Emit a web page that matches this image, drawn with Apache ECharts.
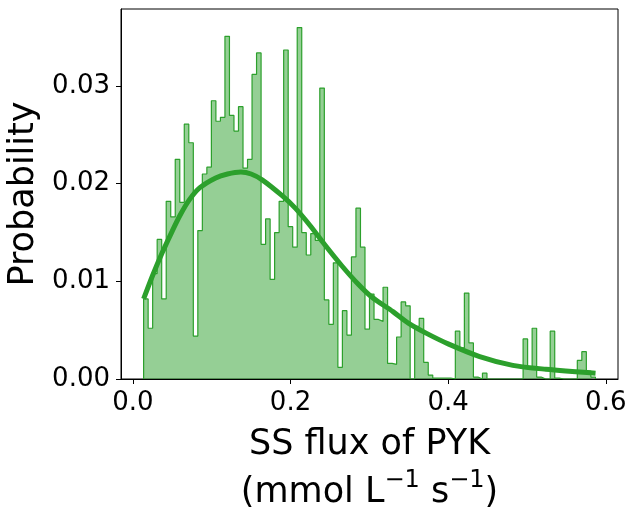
<!DOCTYPE html>
<html>
<head>
<meta charset="utf-8">
<script src="https://cdn.jsdelivr.net/npm/echarts@6/dist/echarts.min.js"></script>
<style>
html, body { margin: 0; padding: 0; background: #fff; }
#chart { width: 638px; height: 514px; }
</style>
</head>
<body>
<div id="chart"></div>
<script>
// histogram: 100 equal bins from binLo to binHi
const binLo = 0.0136;
const binHi = 0.5868;
const probs = [
  0.0082, 0.0052, 0.0108, 0.0143, 0.0082, 0.0182, 0.0166, 0.0225, 0.0181, 0.0261,
  0.0242, 0.0044, 0.0152, 0.0210, 0.0217, 0.0285, 0.0264, 0.0268, 0.0351, 0.0270,
  0.0254, 0.0279, 0.0216, 0.0225, 0.0312, 0.0334, 0.0138, 0.0164, 0.0102, 0.0150,
  0.0182, 0.0337, 0.0156, 0.0135, 0.0360, 0.0150, 0.0127, 0.0149, 0.0142, 0.0298,
  0.0081, 0.0056, 0.0119, 0.0012, 0.0070, 0.0045, 0.0125, 0.0175, 0.0135, 0.0051,
  0.0087, 0.0061, 0.0059, 0.0094, 0.0016, 0.0015, 0.0043, 0.0079, 0.0075, 0.0000,
  0.0054, 0.0062, 0.0017, 0.0004, 0.0001, 0.0001, 0.0001, 0.0001, 0.0000, 0.0049,
  0.0032, 0.0088, 0.0037, 0.0002, 0.0000, 0.0006, 0.0000, 0.0000, 0.0000, 0.0000,
  0.0000, 0.0000, 0.0000, 0.0000, 0.0041, 0.0012, 0.0052, 0.0002, 0.0000, 0.0000,
  0.0049, 0.0001, 0.0000, 0.0000, 0.0000, 0.0000, 0.0019, 0.0028, 0.0008, 0.0002
];
// fitted density curve
const fitX = [0.0136, 0.025, 0.037, 0.049, 0.060, 0.072, 0.085, 0.105, 0.120, 0.137,
  0.150, 0.164, 0.189, 0.206, 0.225, 0.243, 0.265, 0.286, 0.303, 0.330,
  0.350, 0.372, 0.400, 0.440, 0.482, 0.524, 0.587];
const fitY = [0.0082, 0.0106, 0.0129, 0.0150, 0.0168, 0.0184, 0.0196, 0.0206, 0.0210, 0.0212,
  0.0210, 0.0204, 0.0188, 0.0175, 0.0157, 0.0138, 0.0116, 0.0097, 0.0084, 0.0069,
  0.0057, 0.0047, 0.0036, 0.0023, 0.0014, 0.0010, 0.0006];
const xTicks = [0, 0.2, 0.4, 0.6];
const yTicks = [0, 0.01, 0.02, 0.03];

const green = '#2ca02c';
const font = 'DejaVu Sans';

// step outline of the histogram
const w = (binHi - binLo) / probs.length;
const stepPts = [[binLo, 0]];
probs.forEach(function (p, i) {
  stepPts.push([binLo + i * w, p]);
  stepPts.push([binLo + (i + 1) * w, p]);
});
stepPts.push([binHi, 0]);

const fitPts = fitX.map(function (x, i) { return [x, fitY[i]]; });

let myChart = echarts.init(document.getElementById('chart'));
let option = {
  animation: false,
  grid: {
    left: 121, right: 20, top: 9, bottom: 135,
    outerBoundsMode: 'none',
    containLabel: false,
    show: true, borderColor: '#000', borderWidth: 1
  },
  xAxis: {
    type: 'value',
    min: -0.0151,
    max: 0.6155,
    name: 'SS flux of PYK\n{a|(mmol L}{s|\u22121}{a| s}{s|\u22121}{a|)}',
    nameLocation: 'middle',
    nameGap: 29,
    nameTextStyle: {
      fontFamily: font, fontSize: 35, color: '#000', lineHeight: 48,
      rich: {
        a: { fontFamily: font, fontSize: 35, color: '#000', lineHeight: 48 },
        s: { fontFamily: font, fontSize: 24, color: '#000', lineHeight: 30, verticalAlign: 'top' }
      }
    },
    axisLine: { show: true, onZero: false, lineStyle: { color: '#000', width: 1 } },
    axisTick: { show: true, length: 5, customValues: xTicks, lineStyle: { color: '#000' } },
    axisLabel: {
      customValues: xTicks,
      fontFamily: font, fontSize: 26, color: '#000', margin: 11,
      formatter: function (v) { return v.toFixed(1); }
    },
    splitLine: { show: false }
  },
  yAxis: {
    type: 'value',
    min: 0,
    max: 0.0379,
    name: 'Probability',
    nameLocation: 'middle',
    nameGap: 70,
    nameTextStyle: { fontFamily: font, fontSize: 35, color: '#000' },
    axisLine: { show: true, onZero: false, lineStyle: { color: '#000', width: 1 } },
    axisTick: { show: true, length: 5, customValues: yTicks, lineStyle: { color: '#000' } },
    axisLabel: {
      customValues: yTicks,
      fontFamily: font, fontSize: 26, color: '#000', margin: 11,
      formatter: function (v) { return v.toFixed(2); }
    },
    splitLine: { show: false }
  },
  series: [
    {
      name: 'hist',
      type: 'line',
      data: stepPts,
      symbol: 'none',
      lineStyle: { color: green, width: 1.2 },
      areaStyle: { color: green, opacity: 0.5 },
      z: 2
    },
    {
      name: 'fit',
      type: 'line',
      data: fitPts,
      symbol: 'none',
      smooth: 0.3,
      lineStyle: { color: green, width: 5 },
      z: 3
    }
  ]
};
myChart.setOption(option);
</script>
</body>
</html>
